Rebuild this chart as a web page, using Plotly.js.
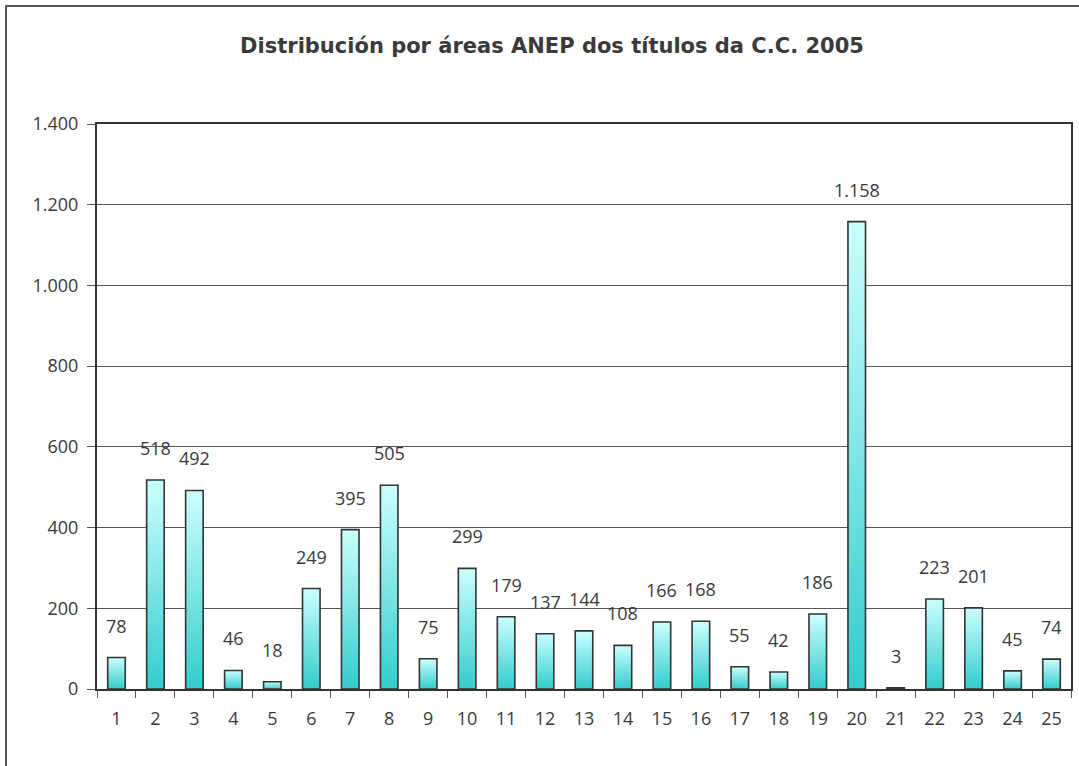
<!DOCTYPE html>
<html>
<head>
<meta charset="utf-8">
<script src="https://cdn.plot.ly/plotly-3.0.1.min.js"></script>
<style>
  html, body { margin: 0; padding: 0; background: #fff; }
  #chart { width: 1079px; height: 766px; }
</style>
</head>
<body>
<div id="chart"></div>
<script>
const chartTitle = 'Distribución por áreas ANEP dos títulos da C.C. 2005';
const categories = ['1','2','3','4','5','6','7','8','9','10','11','12','13','14','15','16','17','18','19','20','21','22','23','24','25'];
const values = [78, 518, 492, 46, 18, 249, 395, 505, 75, 299, 179, 137, 144, 108, 166, 168, 55, 42, 186, 1158, 3, 223, 201, 45, 74];
const yTicks = [0, 200, 400, 600, 800, 1000, 1200, 1400];

const textColor = '#3a3a3a';
const fontFam = '"Open Sans", "DejaVu Sans", sans-serif';

function fmt(v) {
  return v.toString().replace(/\B(?=(\d{3})+(?!\d))/g, '.');
}

const trace = {
  type: 'bar',
  x: categories,
  y: values,
  marker: { color: '#66dddd', line: { color: '#333333', width: 1.6 } },
  hoverinfo: 'x+y'
};

const annotations = categories.map((c, i) => ({
  x: i, y: values[i], xref: 'x', yref: 'y',
  text: fmt(values[i]), showarrow: false,
  yshift: 32, font: { family: fontFam, size: 18, color: textColor }
}));

// outer frame (paper coords of plot area extended to the page)
const L = 97, R = 1071, T = 124, B = 689;
const W = R - L, H = B - T;
const px = v => (v - L) / W;
const py = v => (B - v) / H;

const layout = {
  width: 1079, height: 766,
  margin: { l: L, r: 1079 - R, t: T, b: 766 - B },
  paper_bgcolor: '#ffffff', plot_bgcolor: '#ffffff',
  separators: ',.',
  showlegend: false,
  bargap: 0.55,
  title: {
    text: '<b>' + chartTitle + '</b>',
    x: 552 / 1079, xref: 'container', xanchor: 'center',
    y: 1 - 46 / 766, yref: 'container', yanchor: 'middle',
    font: { family: '"DejaVu Sans", sans-serif', size: 21, color: textColor }
  },
  xaxis: {
    type: 'category',
    range: [-0.5, categories.length - 0.5],
    tickson: 'boundaries',
    ticks: 'outside', ticklen: 7, tickcolor: '#555555', tickwidth: 1,
    showline: true, linecolor: '#333333', linewidth: 2, mirror: true,
    showgrid: false,
    tickfont: { family: fontFam, size: 18, color: textColor },
    ticklabelstandoff: 12
  },
  yaxis: {
    range: [0, 1400],
    tickvals: yTicks,
    ticktext: yTicks.map(fmt),
    ticks: 'outside', ticklen: 8, tickcolor: '#555555', tickwidth: 1,
    showline: true, linecolor: '#333333', linewidth: 2, mirror: true,
    showgrid: true, gridcolor: '#555555', gridwidth: 1,
    zeroline: false,
    tickfont: { family: fontFam, size: 18, color: textColor },
    ticklabelstandoff: 5
  },
  annotations: annotations,
  shapes: [{
    type: 'rect', xref: 'paper', yref: 'paper',
    x0: px(6), x1: px(1090), y0: py(790), y1: py(6),
    line: { color: '#555555', width: 2 }, fillcolor: 'rgba(0,0,0,0)', layer: 'below'
  }]
};

Plotly.newPlot('chart', [trace], layout, { displayModeBar: false, staticPlot: true }).then(gd => {
  const svg = gd.querySelector('svg.main-svg');
  const ns = 'http://www.w3.org/2000/svg';
  let defs = svg.querySelector('defs');
  if (!defs) { defs = document.createElementNS(ns, 'defs'); svg.insertBefore(defs, svg.firstChild); }
  const grad = document.createElementNS(ns, 'linearGradient');
  grad.setAttribute('id', 'barGrad');
  grad.setAttribute('x1', '0'); grad.setAttribute('y1', '0');
  grad.setAttribute('x2', '0'); grad.setAttribute('y2', '1');
  [['0%', '#ccffff'], ['100%', '#33cccc']].forEach(([o, c]) => {
    const s = document.createElementNS(ns, 'stop');
    s.setAttribute('offset', o); s.setAttribute('stop-color', c);
    grad.appendChild(s);
  });
  defs.appendChild(grad);
  gd.querySelectorAll('.bars .point path').forEach(p => {
    p.style.fill = 'url(#barGrad)';
    p.style.fillOpacity = 1;
  });
});
</script>
</body>
</html>
